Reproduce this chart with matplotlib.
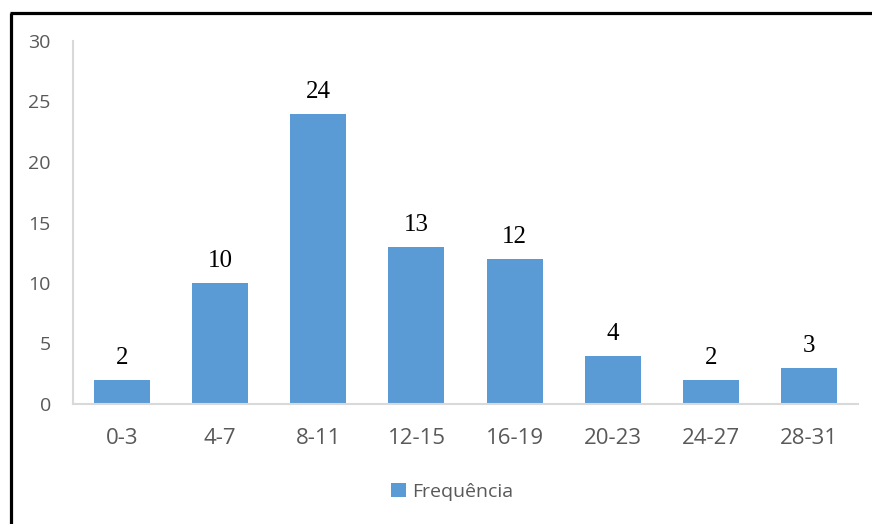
import matplotlib.pyplot as plt
from matplotlib.lines import Line2D

# frequency table per age range
faixas = ['0-3', '4-7', '8-11', '12-15', '16-19', '20-23', '24-27', '28-31']
frequencia = [2, 10, 24, 13, 12, 4, 2, 3]
y_ticks = [0, 5, 10, 15, 20, 25, 30]

fig = plt.figure(figsize=(8.72, 5.24), dpi=100)
ax = fig.add_axes([73 / 872, 1 - 404 / 524, 785 / 872, 363 / 524])

x = range(len(faixas))
bars = ax.bar(x, frequencia, width=0.57, color='#5B9BD5', label='Frequência', zorder=2)

for xi, v in zip(x, frequencia):
    ax.annotate(str(v), (xi, v), xytext=(0, 11.5), textcoords='offset points',
                ha='center', va='baseline', fontsize=18, family='Liberation Serif', color='black')

ax.set_xlim(-0.5, len(faixas) - 0.5)
ax.set_ylim(0, 30)
ax.set_yticks(y_ticks)
ax.set_xticks(list(x))
ax.set_xticklabels(faixas)
ax.tick_params(axis='both', length=0, labelsize=14, labelcolor='#595959')
ax.tick_params(axis='y', pad=16)
ax.tick_params(axis='x', pad=17, labelsize=16)
for lbl in ax.get_xticklabels() + ax.get_yticklabels():
    lbl.set_family('Open Sans')

for side in ['top', 'right']:
    ax.spines[side].set_visible(False)
for side in ['left', 'bottom']:
    ax.spines[side].set_color('#D9D9D9')
    ax.spines[side].set_linewidth(1.5)

leg = fig.legend(handles=[bars], labels=['Frequência'], loc='center',
                 bbox_to_anchor=(452 / 872, 1 - 492 / 524), frameon=False,
                 handlelength=0.75, handleheight=0.75, handletextpad=0.3,
                 prop={'family': 'Open Sans', 'size': 14})
for t in leg.get_texts():
    t.set_color('#595959')

# frame lines on the left and top
fig.add_artist(Line2D([10.5 / 872, 10.5 / 872], [0, 1 - 13 / 524], color='black', lw=2.3,
                      transform=fig.transFigure, solid_capstyle='butt'))
fig.add_artist(Line2D([9.5 / 872, 1], [1 - 13 / 524, 1 - 13 / 524], color='black', lw=2.3,
                      transform=fig.transFigure, solid_capstyle='butt'))

fig.savefig('out.png', dpi=100)
